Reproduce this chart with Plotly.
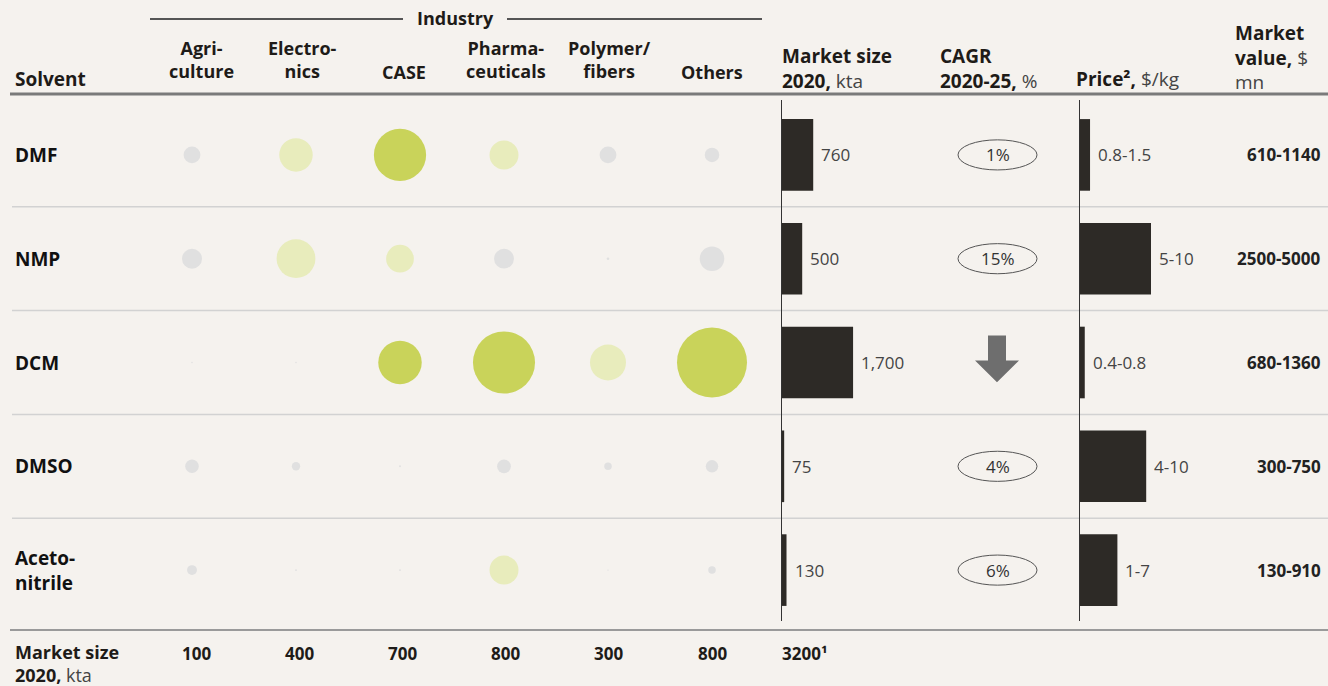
import plotly.graph_objects as go

W, H = 1328, 686

# ---------------- data ----------------
solvents = ["DMF", "NMP", "DCM", "DMSO", "Aceto-<br>nitrile"]
industries = ["Agri-<br>culture", "Electro-<br>nics", "CASE", "Pharma-<br>ceuticals", "Polymer/<br>fibers", "Others"]
# estimated consumption, kta (rows = solvents, cols = industries)
use_dmf = [40, 160, 390, 120, 40, 30]
use_nmp = [57, 215, 110, 56, 1, 86]
use_dcm = [0.3, 0.3, 270, 550, 185, 700]
use_dmso = [26, 10, 0.5, 27, 8, 22]
use_acn = [14, 0.5, 0.5, 120, 0.3, 8]
market_size = [760, 500, 1700, 75, 130]
market_size_labels = ["760", "500", "1,700", "75", "130"]
cagr_labels = ["1%", "15%", None, "4%", "6%"]  # None = declining (arrow)
price_low = [0.8, 5, 0.4, 4, 1]
price_high = [1.5, 10, 0.8, 10, 7]
price_labels = ["0.8-1.5", "5-10", "0.4-0.8", "4-10", "1-7"]
market_value_labels = ["610-1140", "2500-5000", "680-1360", "300-750", "130-910"]
industry_totals = ["100", "400", "700", "800", "300", "800"]
total_market = "3200¹"

# ---------------- style ----------------
BG = "#F5F2EE"
FONT = "Open Sans"
DARK = "#1E1B18"
BAR = "#2D2A26"
GREEN_D = "#C9D35A"
GREEN_L = "#E8ECBC"
GREY_B = "#E0E0E0"


def px(x):
    return x / W


def py(y):
    return 1 - y / H


rows = [use_dmf, use_nmp, use_dcm, use_dmso, use_acn]
bx, by, bs, bc = [], [], [], []
for r, vals in enumerate(rows):
    for c, v in enumerate(vals):
        bx.append(c)
        by.append(r)
        bs.append(v)
        bc.append(GREEN_D if v > 250 else (GREEN_L if v >= 100 else GREY_B))

fig = go.Figure()
fig.add_trace(go.Scatter(
    x=bx, y=by, mode="markers", xaxis="x", yaxis="y",
    marker=dict(size=bs, sizemode="area", sizeref=2 / 7, sizemin=0, opacity=1,
                color=bc, line=dict(width=0)),
    hoverinfo="skip", showlegend=False))

ridx = list(range(len(solvents)))
fig.add_trace(go.Bar(
    x=market_size, y=ridx, orientation="h", xaxis="x2", yaxis="y",
    width=0.69, marker=dict(color=BAR, line=dict(width=0)),
    hoverinfo="skip", showlegend=False))
price_mid = [(a + b) / 2 for a, b in zip(price_low, price_high)]
fig.add_trace(go.Bar(
    x=price_mid, y=ridx, orientation="h", xaxis="x3", yaxis="y",
    width=0.69, marker=dict(color=BAR, line=dict(width=0)),
    hoverinfo="skip", showlegend=False))

ann = []
shapes = []


def text(x, y, s, size=15, color=DARK, xanchor="left", yanchor="middle",
         xref="paper", yref="paper", xshift=0, bold=False):
    ann.append(dict(x=x, y=y, xref=xref, yref=yref, text=("<b>%s</b>" % s) if bold else s,
                    showarrow=False, xanchor=xanchor, yanchor=yanchor, xshift=xshift,
                    font=dict(family=FONT, size=size, color=color), align="left"))


GREYTXT = "<span style='color:#444'>%s</span>"

# header
HS = 19
text(px(455), py(18), "Industry", 18, xanchor="center", bold=True)
shapes.append(dict(type="line", xref="paper", yref="paper", x0=px(150), x1=px(403),
                   y0=py(19), y1=py(19), line=dict(color="#555", width=2)))
shapes.append(dict(type="line", xref="paper", yref="paper", x0=px(507), x1=px(762),
                   y0=py(19), y1=py(19), line=dict(color="#555", width=2)))
head_shift = [9, 6, 4, 2, 1, 0]
for c, name in enumerate(industries):
    two = "<br>" in name
    ann.append(dict(x=c, y=py(60 if two else 72), xref="x", yref="paper",
                    text="<b>%s</b>" % name.replace("<br>", "</b><br><b>"),
                    showarrow=False, xanchor="center", yanchor="middle", align="center",
                    xshift=head_shift[c], font=dict(family=FONT, size=18, color=DARK)))
text(px(13), py(79), "Solvent", HS, bold=True)
text(px(780), py(68), "<b>Market size</b><br><b>2020,</b> " + GREYTXT % "kta", HS)
text(px(938), py(68), "<b>CAGR</b><br><b>2020-25,</b> " + GREYTXT % "%", HS)
text(px(1074), py(79), "<b>Price²,</b> " + GREYTXT % "$/kg", HS)
text(px(1233), py(57), "<b>Market</b><br><b>value,</b> " + GREYTXT % "$" + "<br>" + GREYTXT % "mn", HS)

# header / footer rules and row separators
shapes.append(dict(type="line", xref="paper", yref="paper", x0=px(10), x1=1,
                   y0=py(94), y1=py(94), line=dict(color="#7A7A7A", width=3)))
shapes.append(dict(type="line", xref="paper", yref="paper", x0=px(10), x1=1,
                   y0=py(630), y1=py(630), line=dict(color="#9A9A9A", width=2)))
for r in range(len(solvents) - 1):
    shapes.append(dict(type="line", xref="paper", yref="y", x0=px(12), x1=1,
                       y0=r + 0.5, y1=r + 0.5, line=dict(color="#D2D2D2", width=1.5)))

# axis lines of bar columns
for xr in ["x2", "x3"]:
    shapes.append(dict(type="line", xref=xr, yref="paper", x0=0, x1=0,
                       y0=py(100), y1=py(621), line=dict(color="#333", width=2)))

# row content
for r, name in enumerate(solvents):
    ann.append(dict(x=px(13), y=r, xref="paper", yref="y",
                    text="<b>%s</b>" % name.replace("<br>", "</b><br><b>"),
                    showarrow=False, xanchor="left", yanchor="middle", align="left",
                    font=dict(family=FONT, size=19, color="#111")))
    # market size label
    ann.append(dict(x=market_size[r], y=r, xref="x2", yref="y", text=market_size_labels[r],
                    showarrow=False, xanchor="left", yanchor="middle", xshift=6,
                    font=dict(family=FONT, size=17, color="#444")))
    # price label
    ann.append(dict(x=price_mid[r], y=r, xref="x3", yref="y", text=price_labels[r],
                    showarrow=False, xanchor="left", yanchor="middle", xshift=6,
                    font=dict(family=FONT, size=17, color="#444")))
    # market value
    ann.append(dict(x=px(1323), y=r, xref="paper", yref="y", text="<b>%s</b>" % market_value_labels[r],
                    showarrow=False, xanchor="right", yanchor="middle",
                    font=dict(family=FONT, size=17, color="#222")))
    # CAGR
    if cagr_labels[r] is not None:
        shapes.append(dict(type="circle", xref="paper", yref="y", x0=px(958), x1=px(1037),
                           y0=r - 0.145, y1=r + 0.145, line=dict(color="#555", width=1)))
        ann.append(dict(x=px(997.5), y=r, xref="paper", yref="y", text=cagr_labels[r],
                        showarrow=False, xanchor="center", yanchor="middle",
                        font=dict(family=FONT, size=17, color="#333")))
    else:
        cx = 997
        pts = [(cx - 9, -0.26), (cx + 9, -0.26), (cx + 9, -0.02), (cx + 22, -0.02),
               (cx, 0.19), (cx - 22, -0.02), (cx - 9, -0.02)]
        path = "M " + " L ".join("%.5f,%.4f" % (px(a), r + b) for a, b in pts) + " Z"
        shapes.append(dict(type="path", xref="paper", yref="y", path=path,
                           fillcolor="#6E6E6E", line=dict(width=0)))

# footer
text(px(13), py(663), "<b>Market size</b><br><b>2020,</b> " + GREYTXT % "kta", 18)
for c, v in enumerate(industry_totals):
    ann.append(dict(x=c, y=py(653), xref="x", yref="paper", text="<b>%s</b>" % v,
                    showarrow=False, xanchor="center", yanchor="middle", xshift=head_shift[c] // 2,
                    font=dict(family=FONT, size=17, color=DARK)))
text(px(780), py(653), "<b>%s</b>" % total_market, 17)

hidden = dict(visible=False, showgrid=False, zeroline=False, fixedrange=True)
fig.update_layout(
    width=W, height=H, margin=dict(l=0, r=0, t=0, b=0),
    paper_bgcolor=BG, plot_bgcolor=BG, barmode="overlay", showlegend=False,
    xaxis=dict(domain=[px(140), px(764)], range=[-0.5, 5.5], **hidden),
    xaxis2=dict(domain=[px(781), px(1001)], range=[0, 220 / 0.0424], anchor="y", **hidden),
    xaxis3=dict(domain=[px(1079), px(1239)], range=[0, 160 / 9.6], anchor="y", **hidden),
    yaxis=dict(domain=[py(622), py(103)], range=[4.5, -0.5], **hidden),
    annotations=ann, shapes=shapes,
)
fig.write_html("out.html", config={"displayModeBar": False},
               post_script="document.body.style.margin='0';document.body.style.padding='0';"
                           "document.body.style.overflow='hidden';")
